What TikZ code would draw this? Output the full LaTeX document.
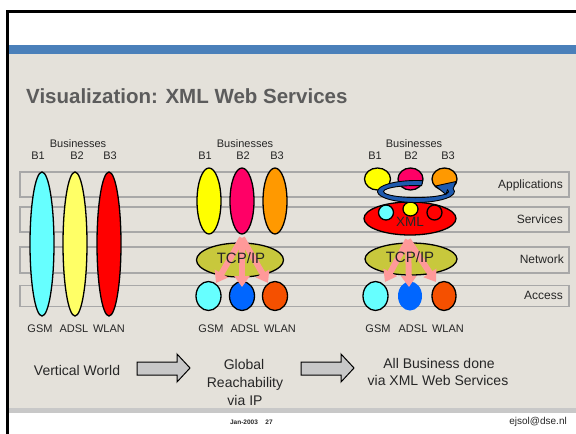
\documentclass[tikz,border=0pt]{standalone}
\usepackage{fontspec}
\setmainfont{Liberation Sans}
\usetikzlibrary{shapes.geometric,arrows.meta}
\definecolor{bg}{HTML}{E4E1DA}
\definecolor{bandblue}{HTML}{4A80BA}
\definecolor{bandgray}{HTML}{C8C8C8}
\definecolor{layergray}{HTML}{A8A8A8}
\definecolor{titlec}{HTML}{5C5C5C}
\definecolor{textc}{HTML}{262626}
\definecolor{cyanc}{HTML}{66FFFF}
\definecolor{paleyellow}{HTML}{FFFF66}
\definecolor{yellowc}{HTML}{FFFF00}
\definecolor{redc}{HTML}{FF0000}
\definecolor{pinkc}{HTML}{FF0066}
\definecolor{orangec}{HTML}{FF9900}
\definecolor{olivec}{HTML}{C8C83C}
\definecolor{bluec}{HTML}{0066FF}
\definecolor{redorange}{HTML}{F55000}
\definecolor{arrowpink}{HTML}{FF9999}
\definecolor{swirlc}{HTML}{1E5AAF}
\definecolor{arrowgray}{HTML}{C8C8C8}
\tikzset{
  lbl/.style={inner sep=0pt, text height=0.72em, text depth=0pt, text=textc},
  small/.style={lbl, font=\fontsize{11}{13}\selectfont},
  mid/.style={lbl, font=\fontsize{12}{14}\selectfont},
  big/.style={lbl, font=\fontsize{14}{17}\selectfont},
  oval/.style={ellipse, draw=black, line width=1.3pt, inner sep=0pt},
  layerbox/.style={draw=layergray, line width=1.4pt, fill=bg, minimum width=549pt, inner sep=0pt},
  pinkarrow/.style={draw=arrowpink, line width=6pt, -{Triangle[length=11pt,width=15pt]}},
  blockarrow/.style={fill=arrowgray, draw=black, line width=1pt, line join=miter},
}
\begin{document}
\begin{tikzpicture}[x=1pt,y=-1pt]
\useasboundingbox (0,0) rectangle (576,434);
% background
\fill[white] (0,0) rectangle (576,434);
\fill[bg] (8,54) rectangle (576,408);
\fill[bandgray] (8,408) rectangle (576,413);
\fill[bandblue] (8,45) rectangle (576,54);
\draw[line width=3pt, black] (7.5,434) -- (7.5,11.5) -- (577,11.5);
% title
\node[lbl, anchor=west, text=titlec, font=\bfseries\fontsize{20.5}{24}\selectfont] (title) at (26,100) {Visualization: XML Web Services};
% layer bars
\node[layerbox, minimum height=25pt] (lapp) at (294.5,184.5) {};
\node[layerbox, minimum height=25pt] (lsrv) at (294.5,219.5) {};
\node[layerbox, minimum height=26pt] (lnet) at (294.5,260) {};
\node[layerbox, minimum height=21pt] (lacc) at (294.5,296) {};
\node[mid, anchor=east] (tapp) at (563,184.5) {Applications};
\node[mid, anchor=east] (tsrv) at (563,219.5) {Services};
\node[mid, anchor=east] (tnet) at (564,260) {Network};
\node[mid, anchor=east] (tacc) at (563,296) {Access};
% ---------- group 1
\node[small] (bus1) at (78,144) {Businesses};
\node[small] (a1) at (38,156) {B1};
\node[small] (a2) at (77,156) {B2};
\node[small] (a3) at (110,156) {B3};
\node[oval, fill=cyanc, minimum width=24pt, minimum height=144pt] (v1) at (42,244) {};
\node[oval, fill=paleyellow, minimum width=24pt, minimum height=144pt] (v2) at (75,244) {};
\node[oval, fill=redc, minimum width=24pt, minimum height=144pt] (v3) at (109,244) {};
\node[small] (g1) at (40,329) {GSM};
\node[small] (d1) at (74,329) {ADSL};
\node[small] (w1) at (109,329) {WLAN};
% ---------- group 2
\node[small] (bus2) at (245,144) {Businesses};
\node[small] (b1) at (205,156) {B1};
\node[small] (b2) at (243,156) {B2};
\node[small] (b3) at (277,156) {B3};
\node[oval, fill=yellowc, minimum width=24pt, minimum height=66pt] (e1) at (209,201) {};
\node[oval, fill=pinkc, minimum width=24pt, minimum height=66pt] (e2) at (242,201) {};
\node[oval, fill=orangec, minimum width=24pt, minimum height=66pt] (e3) at (275,201) {};
\node[oval, fill=olivec, minimum width=87pt, minimum height=34pt] (tcp2) at (240,260) {};
\node[oval, fill=cyanc, minimum width=25pt, minimum height=29pt] (c1) at (208.5,296) {};
\node[oval, fill=bluec, minimum width=25pt, minimum height=29pt] (c2) at (242,296) {};
\node[oval, fill=redorange, minimum width=25pt, minimum height=29pt] (c3) at (275,296) {};
\coordinate (p2) at (242,238);
\coordinate (p2l) at (216,283);
\coordinate (p2m) at (242,287);
\coordinate (p2r) at (268,283);
\draw[pinkarrow] (p2) -- (p2l);
\draw[pinkarrow] (p2) -- (p2r);
\draw[pinkarrow] (p2) -- (p2m);
\node[lbl, font=\fontsize{15}{18}\selectfont] (tcpt2) at (241,260) {TCP/IP};
\node[small] (g2) at (211,329) {GSM};
\node[small] (d2) at (245,329) {ADSL};
\node[small] (w2) at (280,329) {WLAN};
% ---------- group 3
\node[small] (bus3) at (414,144) {Businesses};
\node[small] (f1) at (375,156) {B1};
\node[small] (f2) at (411,156) {B2};
\node[small] (f3) at (448,156) {B3};
\node[oval, fill=yellowc, minimum width=26pt, minimum height=22pt] (t1) at (377.5,179) {};
\node[oval, fill=pinkc, minimum width=25pt, minimum height=22pt] (t2) at (410.5,179) {};
\node[oval, fill=orangec, minimum width=25pt, minimum height=22pt] (t3) at (444.5,179) {};
\node[oval, fill=redc, minimum width=92pt, minimum height=33pt] (xml) at (410,218.5) {};
\node[oval, fill=cyanc, minimum width=15pt, minimum height=15pt] (s1) at (386,212.5) {};
\node[oval, fill=yellowc, minimum width=15pt, minimum height=14pt] (s2) at (410.5,209) {};
\node[oval, fill=redc, minimum width=15pt, minimum height=15pt] (s3) at (434.5,212.5) {};
\node[lbl, font=\fontsize{13.5}{16}\selectfont] (xmlt) at (410,223) {XML};
% swirl (circular arrow)
\filldraw[fill=swirlc, draw=black, line width=0.9pt, line join=miter]
  (416,191.5) ++(280:38.5 and 11)
  arc[start angle=280, end angle=-15, x radius=38.5, y radius=11]
  -- (456,181.5) -- (435.5,186) -- (446,194.5) -- (447.4,190)
  arc[start angle=-15, end angle=280, x radius=32.5, y radius=6] -- cycle;
\node[oval, fill=olivec, minimum width=92pt, minimum height=32pt] (tcp3) at (411,259) {};
\node[oval, fill=cyanc, minimum width=25pt, minimum height=29pt] (k1) at (375.5,296) {};
\node[ellipse, inner sep=0pt, fill=bluec, minimum width=24pt, minimum height=29pt] (k2) at (410,296) {};
\node[oval, fill=redorange, minimum width=24pt, minimum height=29pt] (k3) at (444,296) {};
\coordinate (p3) at (408,240);
\coordinate (p3l) at (385,282);
\coordinate (p3m) at (409,287);
\coordinate (p3r) at (436,282);
\draw[pinkarrow] (p3) -- (p3l);
\draw[pinkarrow] (p3) -- (p3r);
\draw[pinkarrow] (p3) -- (p3m);
\node[lbl, font=\fontsize{15}{18}\selectfont] (tcpt3) at (410,259) {TCP/IP};
\node[small] (g3) at (378,329) {GSM};
\node[small] (d3) at (413,329) {ADSL};
\node[small] (w3) at (448,329) {WLAN};
% ---------- bottom row
\node[big] (vw) at (77,372) {Vertical World};
\draw[blockarrow] (137,362) -- (177,362) -- (177,354) -- (190,368) -- (177,382) -- (177,375) -- (137,375) -- cycle;
\node[big] (gr1) at (244,366) {Global};
\node[big] (gr2) at (245,384) {Reachability};
\node[big] (gr3) at (245,402) {via IP};
\draw[blockarrow] (301,362) -- (341,362) -- (341,354) -- (354,368) -- (341,382) -- (341,375) -- (301,375) -- cycle;
\node[big] (ab1) at (439,365) {All Business done};
\node[big] (ab2) at (438,382) {via XML Web Services};
% footer
\node[lbl, font=\bfseries\fontsize{6.5}{8}\selectfont] (date) at (244,421) {Jan-2003};
\node[lbl, font=\bfseries\fontsize{6.5}{8}\selectfont] (num) at (269,421) {27};
\node[lbl, anchor=east, font=\fontsize{10}{12}\selectfont] (mail) at (567,421) {ejsol@dse.nl};
\end{tikzpicture}
\end{document}
